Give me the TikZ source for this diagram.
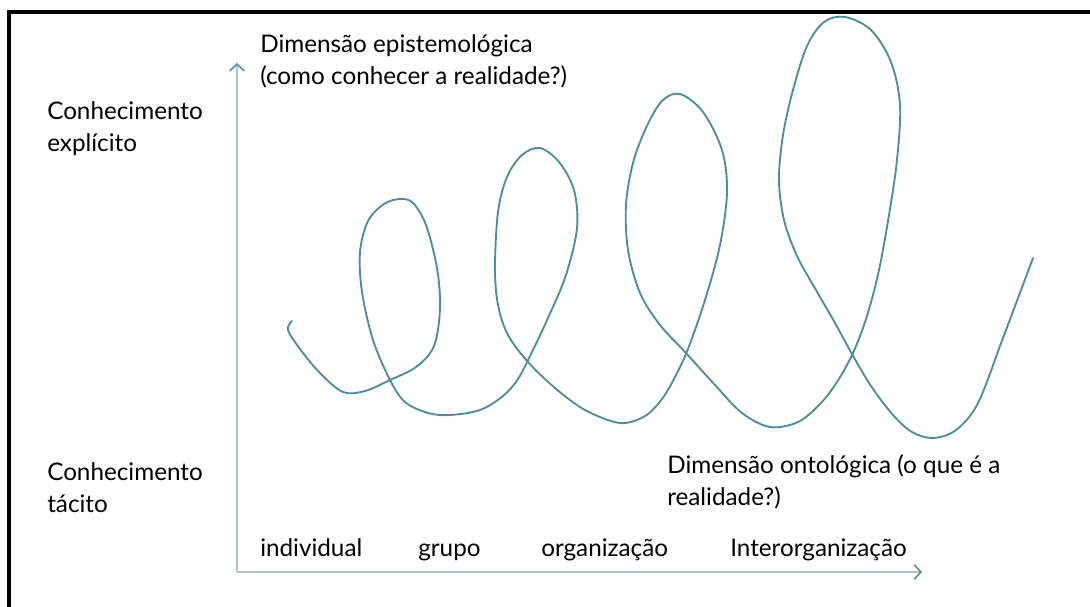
\documentclass[tikz,border=0pt]{standalone}
\usepackage{fontspec}
\setmainfont{Lato}
\usetikzlibrary{arrows.meta}
\definecolor{spiralc}{HTML}{4E8E9B}
\definecolor{axisc}{HTML}{ADC6CE}
\definecolor{tipc}{HTML}{5A95A3}
\begin{document}
\begin{tikzpicture}[x=0.75pt,y=-0.75pt,
  lbl/.style={anchor=west,align=left,inner sep=0pt,font=\fontsize{18.2}{24}\selectfont},
  blbl/.style={anchor=base west,inner sep=0pt,font=\fontsize{18.2}{24}\selectfont},
  axisline/.style={draw=axisc,line width=2pt,-{Straight Barb[length=5pt,width=11pt,line width=1.3pt,color=tipc]}},
  spiralline/.style={draw=spiralc,line width=1.4pt,line cap=round,line join=round}]
\useasboundingbox (0,0) rectangle (1090,607);
% frame
\draw[line width=2.4pt,black] (9,607) -- (9,12) -- (1090,12);
% axes
\coordinate (O) at (237,572);
\coordinate (ytip) at (237,63);
\coordinate (xtip) at (922,572);
\draw[axisline] (O) -- (ytip);
\draw[axisline] (O) -- (xtip);
% spiral
\draw[spiralline] plot[smooth,tension=0.55] coordinates {
 (292,321) (288,330) (300,349) (320,373) (343,392) (365,391) (390,380) (416,367)
 (434,346) (440,308) (437,268) (426,225) (413,203) (400,199) (384,204) (368,221)
 (360,252) (362,292) (373,340) (390,380) (405,402) (428,413) (450,415) (480,410)
 (503,396) (518,379) (532,352) (548,318) (566,275) (577,228) (574,190) (559,162) (540,148)
 (522,155) (507,177) (498,212) (495,268) (498,305) (508,335) (528,362) (555,388)
 (585,410) (620,423) (645,416) (662,399) (675,377) (688,349) (705,300) (720,245) (727,192)
 (722,150) (703,112) (680,94) (662,101) (646,128) (633,163) (626,205) (628,250)
 (640,293) (660,325) (686,353) (715,385) (742,413) (770,427) (798,422) (820,404)
 (837,382) (853,353) (867,316) (879,270) (889,215) (897,160) (900,105) (891,62) (871,30) (845,17)
 (824,22) (807,46) (793,90) (783,135) (779,180) (784,220) (797,256) (816,290)
 (835,323) (852,354) (871,386) (893,415) (912,432) (933,438) (956,430) (978,403)
 (1003,338) (1033,258)};
% labels
\node[lbl] (ce) at (47,129) {Conhecimento\\explícito};
\node[lbl] (ct) at (47,488) {Conhecimento\\tácito};
\node[lbl] (de) at (260,61) {Dimensão epistemológica\\(como conhecer a realidade?)};
\node[lbl] (do) at (667,482) {Dimensão ontológica (o que é a\\realidade?)};
\node[blbl] (ind) at (260,556) {individual};
\node[blbl] (gru) at (418,556) {grupo};
\node[blbl] (org) at (541,556) {organização};
\node[blbl] (int) at (730,556) {Interorganização};
\end{tikzpicture}
\end{document}
